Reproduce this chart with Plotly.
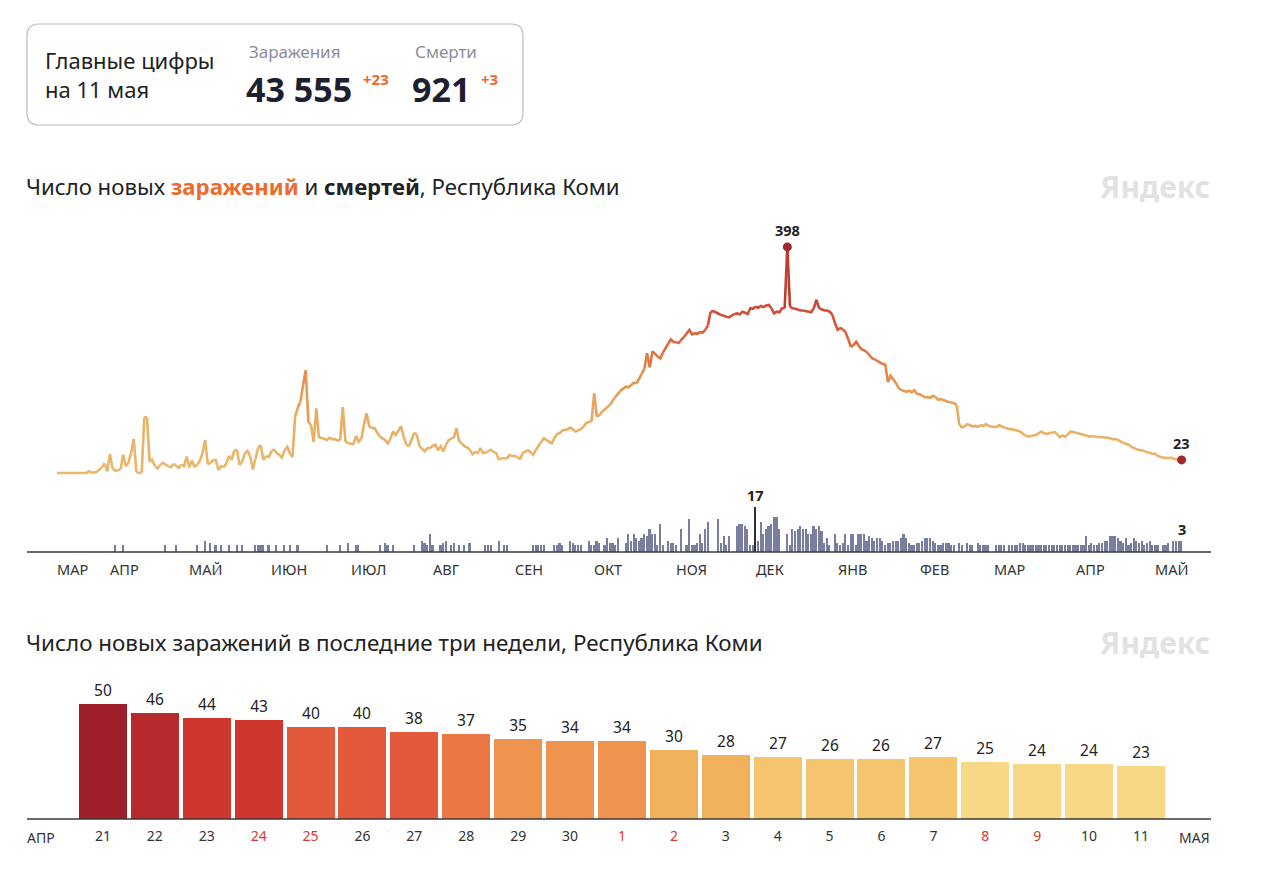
import datetime as dt
import plotly.graph_objects as go
from plotly.colors import sample_colorscale

W, H = 1280, 870
FONT = "Noto Sans"


def px(x):
    return x / W


def py(y):
    return 1 - y / H


# daily new cases, Komi Republic, starting 12 March 2020
cases_2020_03 = [0, 0, 0, 0, 0, 0, 1, 1, 1, 1, 1, 0, 3, 1, 1, 2, 6, 10, 17, 3]
cases_2020_04 = [33, 8, 4, 5, 6, 32, 12, 18, 35, 60, 2, 0, 1, 98, 98, 20, 23, 12, 8, 14,
                 18, 15, 12, 10, 16, 13, 9, 15, 12, 29]
cases_2020_05 = [10, 22, 10, 15, 22, 35, 58, 15, 18, 22, 23, 5, 12, 10, 17, 30, 23, 40, 41, 14,
                 20, 35, 39, 30, 6, 25, 45, 49, 23, 30, 28]
cases_2020_06 = [38, 42, 35, 32, 27, 40, 46, 35, 28, 100, 115, 126, 155, 181, 90, 84, 55, 114, 62, 62,
                 60, 58, 62, 59, 60, 57, 58, 116, 55, 53]
cases_2020_07 = [52, 50, 65, 55, 60, 85, 105, 82, 79, 79, 71, 64, 61, 58, 52, 60, 73, 67, 75, 82,
                 64, 50, 47, 60, 71, 67, 47, 42, 38, 44, 44]
cases_2020_08 = [48, 50, 40, 47, 38, 50, 58, 61, 62, 79, 55, 52, 47, 45, 41, 33, 37, 35, 44, 35,
                 36, 38, 41, 37, 35, 23, 26, 26, 25, 32, 30]
cases_2020_09 = [30, 28, 24, 35, 38, 40, 36, 32, 41, 47, 55, 61, 58, 55, 52, 62, 69, 70, 75, 76,
                 77, 80, 76, 73, 75, 77, 82, 88, 90, 91]
cases_2020_10 = [140, 99, 102, 108, 112, 116, 120, 127, 134, 140, 145, 149, 152, 151, 155, 159, 158, 166, 175, 184,
                 211, 186, 214, 210, 205, 202, 212, 220, 228, 235, 231]
cases_2020_11 = [230, 229, 235, 240, 246, 252, 244, 246, 245, 248, 247, 252, 260, 284, 285, 283, 281, 278, 276, 275,
                 274, 277, 280, 281, 279, 284, 282, 280, 290, 289]
cases_2020_12 = [293, 291, 294, 292, 295, 296, 290, 281, 284, 283, 290, 290, 398, 293, 290, 289, 287, 286, 286, 285,
                 283, 283, 290, 305, 290, 288, 286, 286, 284, 279, 264]
cases_2021_01 = [252, 255, 253, 248, 236, 222, 225, 231, 224, 218, 216, 213, 208, 202, 200, 197, 194, 192, 192, 160,
                 171, 165, 159, 150, 146, 144, 143, 145, 142, 146, 139]
cases_2021_02 = [139, 136, 133, 134, 132, 136, 134, 129, 130, 128, 126, 125, 124, 123, 120, 85, 80, 82, 86, 84,
                 82, 83, 81, 84, 83, 86, 83, 82]
cases_2021_03 = [82, 81, 84, 82, 80, 78, 77, 77, 76, 75, 73, 69, 66, 64, 65, 66, 67, 70, 73, 70,
                 69, 70, 71, 72, 68, 63, 66, 64, 68, 73, 72]
cases_2021_04_1_20 = [71, 70, 69, 67, 66, 64, 65, 64, 64, 63, 63, 63, 62, 61, 59, 60, 58, 56, 53, 51]

# last three weeks: 21 April - 11 May 2021
three_weeks_days = ["21", "22", "23", "24", "25", "26", "27", "28", "29", "30",
                    "1", "2", "3", "4", "5", "6", "7", "8", "9", "10", "11"]
three_weeks_cases = [50, 46, 44, 43, 40, 40, 38, 37, 35, 34, 34, 30, 28, 27, 26, 26, 27, 25, 24, 24, 23]
weekend_days = ["24", "25", "1", "2", "8", "9"]

# daily deaths, same days
deaths_2020_03 = [0, 0, 0, 0, 0, 0, 0, 0, 0, 0, 0, 0, 0, 0, 0, 0, 0, 0, 0, 0]
deaths_2020_04 = [0, 0, 1, 0, 0, 1, 0, 0, 0, 0, 0, 0, 0, 0, 0, 0, 0, 0, 0, 0,
                  0, 1, 0, 0, 0, 1, 0, 0, 0, 0]
deaths_2020_05 = [0, 0, 0, 1, 0, 0, 3, 0, 2, 0, 1, 0, 1, 0, 0, 1, 0, 0, 1, 0,
                  1, 0, 0, 0, 0, 1, 1, 1, 1, 0, 1]
deaths_2020_06 = [0, 0, 1, 0, 0, 1, 0, 1, 0, 0, 1, 0, 0, 0, 0, 0, 0, 0, 0, 0,
                  0, 1, 0, 0, 0, 0, 1, 0, 0, 2]
deaths_2020_07 = [0, 0, 1, 1, 0, 0, 0, 0, 0, 0, 0, 1, 0, 2, 1, 0, 1, 0, 0, 0,
                  0, 0, 0, 0, 1, 0, 0, 3, 2, 1, 6]
deaths_2020_08 = [1, 0, 0, 1, 2, 3, 0, 1, 2, 0, 1, 0, 1, 0, 2, 0, 0, 0, 0, 0,
                  1, 1, 1, 0, 0, 3, 0, 1, 1, 0, 0]
deaths_2020_09 = [0, 0, 0, 0, 0, 0, 0, 1, 1, 1, 1, 1, 0, 0, 0, 1, 1, 2, 1, 0,
                  0, 3, 2, 1, 1, 1, 0, 0, 3, 1]
deaths_2020_10 = [1, 3, 2, 0, 1, 4, 2, 2, 1, 4, 0, 0, 2, 6, 3, 6, 4, 3, 4, 6,
                  5, 8, 6, 6, 1, 10, 1, 0, 3, 2, 2]
deaths_2020_11 = [1, 0, 8, 0, 1, 12, 1, 1, 2, 6, 2, 8, 11, 0, 0, 0, 12, 2, 5, 1,
                  5, 0, 0, 9, 10, 10, 9, 8, 1, 1]
deaths_2020_12 = [17, 3, 11, 6, 8, 9, 10, 13, 13, 8, 0, 0, 6, 1, 8, 7, 8, 9, 8, 8,
                  6, 6, 9, 8, 9, 7, 2, 4, 1, 0, 6]
deaths_2021_01 = [2, 1, 2, 6, 1, 6, 6, 1, 6, 6, 6, 3, 5, 4, 3, 4, 4, 3, 1, 2,
                  2, 3, 3, 3, 4, 6, 4, 2, 1, 1, 2]
deaths_2021_02 = [2, 3, 4, 4, 4, 3, 2, 1, 1, 2, 2, 2, 1, 1, 0, 2, 1, 0, 2, 1,
                  1, 0, 2, 1, 1, 1, 1, 0]
deaths_2021_03 = [0, 1, 1, 1, 1, 0, 1, 1, 1, 1, 2, 2, 1, 1, 1, 1, 1, 1, 1, 1,
                  1, 1, 1, 1, 1, 1, 1, 1, 1, 1, 1]
deaths_2021_04 = [1, 1, 1, 1, 5, 1, 2, 1, 1, 2, 2, 3, 3, 5, 5, 5, 4, 3, 2, 4,
                  1, 2, 4, 3, 2, 3, 1, 2, 3, 1]
deaths_2021_05 = [1, 1, 0, 1, 1, 2, 0, 3, 3, 3, 3]

total_cases = 43555
total_deaths = 921
month_names = ["МАР", "АПР", "МАЙ", "ИЮН", "ИЮЛ", "АВГ", "СЕН", "ОКТ", "НОЯ", "ДЕК",
               "ЯНВ", "ФЕВ", "МАР", "АПР", "МАЙ"]

cases = (cases_2020_03 + cases_2020_04 + cases_2020_05 + cases_2020_06 + cases_2020_07
         + cases_2020_08 + cases_2020_09 + cases_2020_10 + cases_2020_11 + cases_2020_12
         + cases_2021_01 + cases_2021_02 + cases_2021_03 + cases_2021_04_1_20 + three_weeks_cases)
deaths = (deaths_2020_03 + deaths_2020_04 + deaths_2020_05 + deaths_2020_06 + deaths_2020_07
          + deaths_2020_08 + deaths_2020_09 + deaths_2020_10 + deaths_2020_11 + deaths_2020_12
          + deaths_2021_01 + deaths_2021_02 + deaths_2021_03 + deaths_2021_04 + deaths_2021_05)

start = dt.datetime(2020, 3, 12)
dates = [start + dt.timedelta(days=i) for i in range(len(cases))]

fig = go.Figure()

# ---- line of new cases, coloured by level ----
line_scale = [[0.0, "#e9b96d"], [0.25, "#e8ad62"], [0.4, "#e6924f"],
              [0.55, "#de6f40"], [0.72, "#cf4d37"], [1.0, "#b02e2a"]]
n_bins = 30
vmax = max(cases)


def level(i):
    v = (cases[i] + cases[i + 1]) / 2
    return min(int(v / vmax * n_bins), n_bins - 1)


runs = []
run_start, run_bin = 0, level(0)
for i in range(1, len(cases) - 1):
    b = level(i)
    if b != run_bin:
        runs.append((run_bin, run_start, i))
        run_start, run_bin = i, b
runs.append((run_bin, run_start, len(cases) - 1))

by_bin = {}
for b, s, e in runs:
    xs, ys = by_bin.setdefault(b, ([], []))
    xs.extend(dates[s:e + 1] + [None])
    ys.extend(cases[s:e + 1] + [None])

for b, (xs, ys) in sorted(by_bin.items()):
    col = sample_colorscale(line_scale, [(b + 0.5) / n_bins])[0]
    fig.add_trace(go.Scatter(x=xs, y=ys, mode="lines", line=dict(color=col, width=2.6),
                             hoverinfo="skip", showlegend=False, xaxis="x", yaxis="y"))

peak_i = cases.index(vmax)
last_i = len(cases) - 1
fig.add_trace(go.Scatter(x=[dates[peak_i], dates[last_i]], y=[cases[peak_i], cases[last_i]],
                         mode="markers", marker=dict(color="#a3272b", size=9),
                         showlegend=False, xaxis="x", yaxis="y"))

# ---- death bars (a small minimum height is added like the original) ----
DEATH_OFFSET = 1.77
dmax = max(deaths)
dmax_i = deaths.index(dmax)
fig.add_trace(go.Bar(
    x=dates, y=[d + DEATH_OFFSET if d > 0 else 0 for d in deaths],
    width=0.62 * 86400000,
    marker=dict(color=["#2c2e3e" if i == dmax_i else "#7a7e9e" for i in range(len(deaths))],
                line=dict(width=0)),
    showlegend=False, xaxis="x", yaxis="y2", hoverinfo="skip"))

# ---- last three weeks bars ----


def bar_color(v):
    if v >= 48:
        return "#9e1f2b"
    if v >= 45:
        return "#b62a2b"
    if v >= 42:
        return "#cf362d"
    if v >= 38:
        return "#e4583b"
    if v >= 36:
        return "#ea7844"
    if v >= 33:
        return "#ee944f"
    if v >= 28:
        return "#f1b05b"
    if v >= 26:
        return "#f4c56d"
    return "#f6d886"


fig.add_trace(go.Bar(
    x=three_weeks_days, y=three_weeks_cases, width=0.925,
    marker=dict(color=[bar_color(v) for v in three_weeks_cases], line=dict(width=0)),
    text=[str(v) for v in three_weeks_cases], textposition="outside", cliponaxis=False,
    textfont=dict(family=FONT, size=15.5, color="#222"),
    showlegend=False, xaxis="x2", yaxis="y3", hoverinfo="skip"))

# ---- axes ----
day_px = 2.646
x_left = start - dt.timedelta(days=(57 - 27) / day_px)
x_right = start + dt.timedelta(days=last_i + (1211 - 1181.6) / day_px)
zero_y, unit = 473, 0.568

ticktext = [f"<span style='color:#d8382f'>{d}</span>" if d in weekend_days else d
            for d in three_weeks_days]

fig.update_layout(
    width=W, height=H, margin=dict(l=0, r=0, t=0, b=0),
    paper_bgcolor="white", plot_bgcolor="white",
    font=dict(family=FONT, color="#222"),
    bargap=0,
    xaxis=dict(type="date", domain=[px(27), px(1211)], range=[x_left, x_right],
               showgrid=False, zeroline=False, showticklabels=False, fixedrange=True),
    yaxis=dict(domain=[py(480), py(235)],
               range=[(zero_y - 480) / unit, (zero_y - 235) / unit],
               showgrid=False, zeroline=False, showticklabels=False, fixedrange=True),
    yaxis2=dict(domain=[py(552), py(500)], range=[0, (552 - 500) / 2.38],
                showgrid=False, zeroline=False, showticklabels=False, fixedrange=True),
    xaxis2=dict(type="category", domain=[px(27), px(1211)], range=[-1.464, 21.349],
                anchor="y3", showgrid=False, zeroline=False, ticks="",
                tickvals=three_weeks_days, ticktext=ticktext, ticklabelstandoff=7,
                tickfont=dict(family=FONT, size=14, color="#333"), fixedrange=True),
    yaxis3=dict(domain=[py(819), py(680)], range=[0, (819 - 680) / 2.3], anchor="x2",
                showgrid=False, zeroline=False, showticklabels=False, fixedrange=True),
)

# baselines
for yb in (552, 819):
    fig.add_shape(type="line", xref="paper", yref="paper", x0=px(27), x1=px(1211),
                  y0=py(yb), y1=py(yb), line=dict(color="#3a3a3a", width=1.5))

# header box with rounded corners
x0, x1, y0, y1, r = 27, 523, 24, 125, 12
path = (f"M {px(x0 + r)},{py(y0)} L {px(x1 - r)},{py(y0)} Q {px(x1)},{py(y0)} {px(x1)},{py(y0 + r)} "
        f"L {px(x1)},{py(y1 - r)} Q {px(x1)},{py(y1)} {px(x1 - r)},{py(y1)} "
        f"L {px(x0 + r)},{py(y1)} Q {px(x0)},{py(y1)} {px(x0)},{py(y1 - r)} "
        f"L {px(x0)},{py(y0 + r)} Q {px(x0)},{py(y0)} {px(x0 + r)},{py(y0)} Z")
fig.add_shape(type="path", xref="paper", yref="paper", path=path,
              line=dict(color="#b9bcc6", width=1.2), fillcolor="rgba(0,0,0,0)")


def note(x, y, text, size, color="#222", xanchor="left", yanchor="middle", **kw):
    fig.add_annotation(x=px(x), y=py(y), xref="paper", yref="paper", text=text,
                       showarrow=False, xanchor=xanchor, yanchor=yanchor,
                       font=dict(family=FONT, size=size, color=color), **kw)


def fmt(n):
    return f"{n:,}".replace(",", " ")


note(43, 60, "Главные цифры", 22)
note(43, 89, "на 11 мая", 22)
note(247, 52, "Заражения", 17, color="#8b8e9a")
note(244, 89, f"<b>{fmt(total_cases)}</b>", 34, color="#1d2030")
note(361, 79, f"<b>+{three_weeks_cases[-1]}</b>", 15, color="#ea6a2b")
note(413, 52, "Смерти", 17, color="#8b8e9a")
note(410, 89, f"<b>{fmt(total_deaths)}</b>", 34, color="#1d2030")
note(479, 79, f"<b>+{deaths[-1]}</b>", 15, color="#ea6a2b")

note(24, 187, "Число новых <span style='color:#ee6b2d'><b>заражений</b></span> и "
     "<b>смертей</b>, Республика Коми", 22.2)
note(24, 642, "Число новых заражений в последние три недели, Республика Коми", 22.4)
for yy in (187, 642):
    note(1212, yy, "<b>Яндекс</b>", 30, color="#e2e2e2", xanchor="right")

# month labels under the top chart
month_starts = [start] + [dt.datetime(2020 + (m - 1) // 12, (m - 1) % 12 + 1, 1) for m in range(4, 18)]
for name, d in zip(month_names, month_starts):
    fig.add_annotation(x=d, xref="x", y=py(569), yref="paper", text=name, showarrow=False,
                       xanchor="left", yanchor="middle", xshift=-2,
                       font=dict(family=FONT, size=14.5, color="#333"))

note(25, 837, "АПР", 14, color="#333")
note(1212, 837, "МАЯ", 14, color="#333", xanchor="right")

# value labels
for i in (peak_i, last_i):
    fig.add_annotation(x=dates[i], y=cases[i], xref="x", yref="y", text=f"<b>{cases[i]}</b>",
                       showarrow=False, yanchor="bottom", yshift=5,
                       font=dict(family=FONT, size=14.5, color="#222"))
for i in (dmax_i, last_i):
    fig.add_annotation(x=dates[i], y=deaths[i] + DEATH_OFFSET, xref="x", yref="y2",
                       text=f"<b>{deaths[i]}</b>", showarrow=False, yanchor="bottom", yshift=0,
                       font=dict(family=FONT, size=14.5, color="#222"))

fig.write_html("out.html", config={"displayModeBar": False},
               post_script="document.body.style.margin='0';")
